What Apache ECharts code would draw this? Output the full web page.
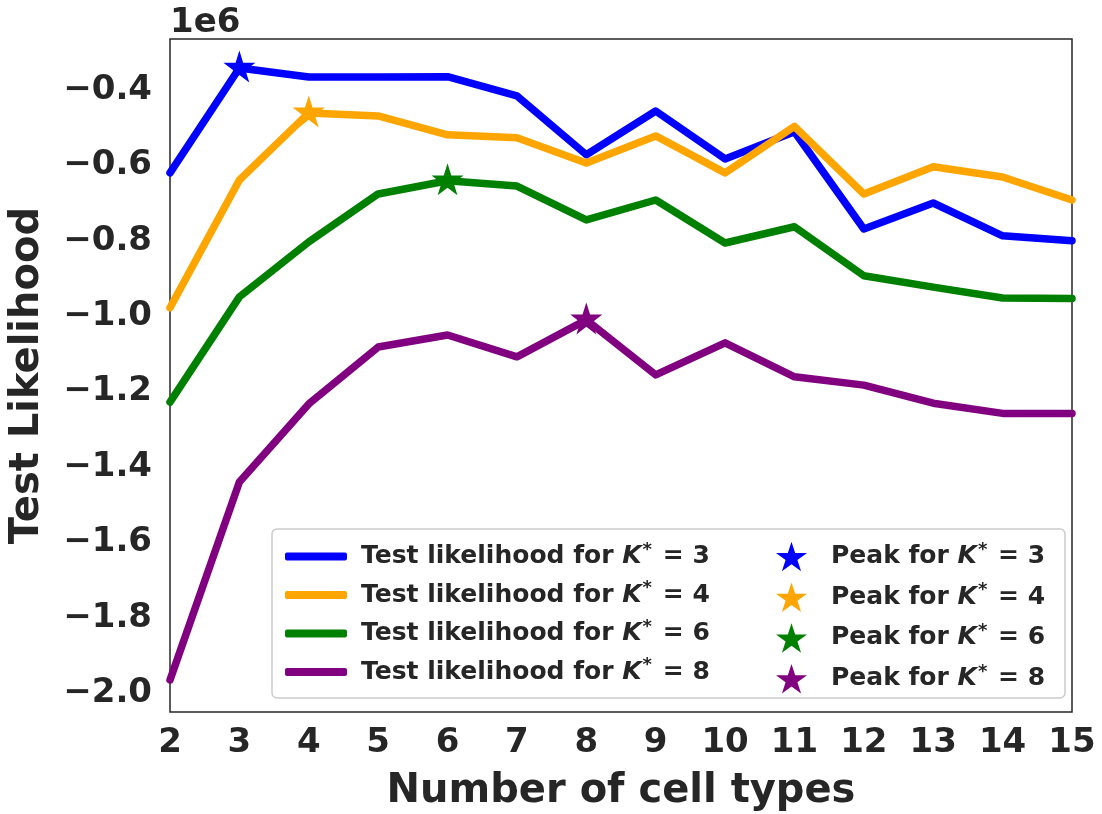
<!DOCTYPE html>
<html>
<head>
<meta charset="utf-8">
<script src="https://cdn.jsdelivr.net/npm/echarts@6/dist/echarts.min.js"></script>
<style>
  html, body { margin: 0; padding: 0; background: #fff; }
  #chart { width: 1102px; height: 814px; }
</style>
</head>
<body>
<div id="chart"></div>
<script>
// Number of cell types on the x axis
const cellTypes = [2, 3, 4, 5, 6, 7, 8, 9, 10, 11, 12, 13, 14, 15];

// Test likelihood per true number of cell types K*
const likelihoodK3 = [-620000, -342000, -366000, -366000, -365000, -416000, -572000, -456000, -583000, -511000, -769000, -700000, -787000, -800000];
const likelihoodK4 = [-978000, -639000, -461000, -469000, -519000, -527000, -594000, -522000, -620000, -497000, -676000, -604000, -631000, -692000];
const likelihoodK6 = [-1228000, -949000, -803000, -676000, -641000, -655000, -745000, -692000, -806000, -763000, -893000, -923000, -952000, -953000];
const likelihoodK8 = [-1965000, -1440000, -1233000, -1082000, -1050000, -1108000, -1010000, -1156000, -1071000, -1161000, -1183000, -1231000, -1258000, -1258000];

const kValues = [3, 4, 6, 8];
const seriesColors = ['#0000ff', '#ffa500', '#008000', '#800080'];

// Axis ticks
const xTicks = [2, 3, 4, 5, 6, 7, 8, 9, 10, 11, 12, 13, 14, 15];
const yTicks = [-2000000, -1800000, -1600000, -1400000, -1200000, -1000000, -800000, -600000, -400000];
const yMin = -2050000;
const yMax = -265000;

const allLikelihoods = [likelihoodK3, likelihoodK4, likelihoodK6, likelihoodK8];

const FONT = 'DejaVu Sans';
const INK = '#262626';

// Five-pointed star marker
const STAR = 'path://M0,-1L0.2245,-0.309L0.951,-0.309L0.363,0.118L0.588,0.809L0,0.382L-0.588,0.809L-0.363,0.118L-0.951,-0.309L-0.2245,-0.309Z';

const lineName = k => 'Test likelihood for K* = ' + k;
const peakName = k => 'Peak for K* = ' + k;

const series = [];
allLikelihoods.forEach((vals, i) => {
  series.push({
    name: lineName(kValues[i]),
    type: 'line',
    data: cellTypes.map((x, j) => [x, vals[j]]),
    showSymbol: false,
    symbol: 'none',
    lineStyle: { color: seriesColors[i], width: 7.5, cap: 'round', join: 'round' },
    itemStyle: { color: seriesColors[i] },
    z: 2 + i * 0.01
  });
});
allLikelihoods.forEach((vals, i) => {
  let best = 0;
  vals.forEach((v, j) => { if (v > vals[best]) best = j; });
  series.push({
    name: peakName(kValues[i]),
    type: 'scatter',
    data: [[cellTypes[best], vals[best]]],
    symbol: STAR,
    symbolSize: 32,
    symbolOffset: [0, -1.5],
    itemStyle: { color: seriesColors[i], opacity: 1 },
    z: 3
  });
});

const legendRich = {
  a: { fontFamily: FONT, fontWeight: 'bold', fontSize: 25, lineHeight: 31, color: INK, padding: [0, 0, 0, 9] },
  p: { fontFamily: FONT, fontWeight: 'bold', fontSize: 25, lineHeight: 31, color: INK, padding: [0, 0, 0, 19] },
  b: { fontFamily: FONT, fontWeight: 'bold', fontSize: 25, lineHeight: 31, color: INK },
  k: { fontFamily: FONT, fontWeight: 'bold', fontStyle: 'italic', fontSize: 25, lineHeight: 31, color: INK },
  s: { fontFamily: FONT, fontWeight: 'bold', fontSize: 18, lineHeight: 18, color: INK, verticalAlign: 'top', padding: [0, 2, 0, 1] }
};
const legendFormatter = lead => name => {
  const parts = name.split('K*');
  return '{' + lead + '|' + parts[0] + '}{k|K}{s|*}{b|' + parts[1] + '}';
};

const option = {
  animation: false,
  backgroundColor: '#ffffff',
  grid: {
    left: 170, right: 30, top: 39, bottom: 102,
    outerBoundsMode: 'none',
    containLabel: false,
    show: true, borderColor: INK, borderWidth: 1.5, backgroundColor: 'transparent'
  },
  xAxis: {
    type: 'value',
    min: 2, max: 15, interval: 1,
    name: 'Number of cell types',
    nameLocation: 'middle',
    nameGap: 60,
    nameTextStyle: { fontFamily: FONT, fontWeight: 'bold', fontSize: 40, color: INK },
    axisLine: { show: false },
    axisTick: { show: false },
    splitLine: { show: false },
    axisLabel: {
      fontFamily: FONT, fontWeight: 'bold', fontSize: 34, color: INK, margin: 14,
      customValues: xTicks,
      formatter: v => String(v)
    }
  },
  yAxis: {
    type: 'value',
    min: yMin, max: yMax,
    name: 'Test Likelihood',
    nameLocation: 'middle',
    nameGap: 122,
    nameTextStyle: { fontFamily: FONT, fontWeight: 'bold', fontSize: 40, color: INK },
    axisLine: { show: false },
    axisTick: { show: false },
    splitLine: { show: false },
    axisLabel: {
      fontFamily: FONT, fontWeight: 'bold', fontSize: 34, color: INK, margin: 18,
      padding: [5, 0, 0, 0],
      customValues: yTicks,
      formatter: v => (v / 1e6).toFixed(1).replace('-', '\u2212')
    }
  },
  legend: [
    {
      orient: 'vertical',
      left: 280, top: 536,
      itemWidth: 62, itemHeight: 8, itemGap: 10.5,
      icon: 'roundRect',
      selectedMode: false,
      data: kValues.map(lineName),
      formatter: legendFormatter('a'),
      textStyle: { rich: legendRich }
    },
    {
      orient: 'vertical',
      left: 771, top: 536,
      itemWidth: 31, itemHeight: 31, itemGap: 10.5,
      icon: STAR,
      selectedMode: false,
      data: kValues.map(peakName),
      formatter: legendFormatter('p'),
      textStyle: { rich: legendRich }
    }
  ],
  graphic: [
    {
      type: 'text', left: 170, top: 6,
      style: { text: '1e6', fontFamily: FONT, fontWeight: 'bold', fontSize: 34, fill: INK }
    },
    {
      type: 'rect', z: 3,
      shape: { x: 272, y: 529, width: 793, height: 169, r: 5 },
      style: { fill: 'rgba(255,255,255,0.8)', stroke: '#cccccc', lineWidth: 1.5 }
    }
  ],
  series: series
};

const chart = echarts.init(document.getElementById('chart'), null, { renderer: 'canvas' });
chart.setOption(option);
</script>
</body>
</html>
